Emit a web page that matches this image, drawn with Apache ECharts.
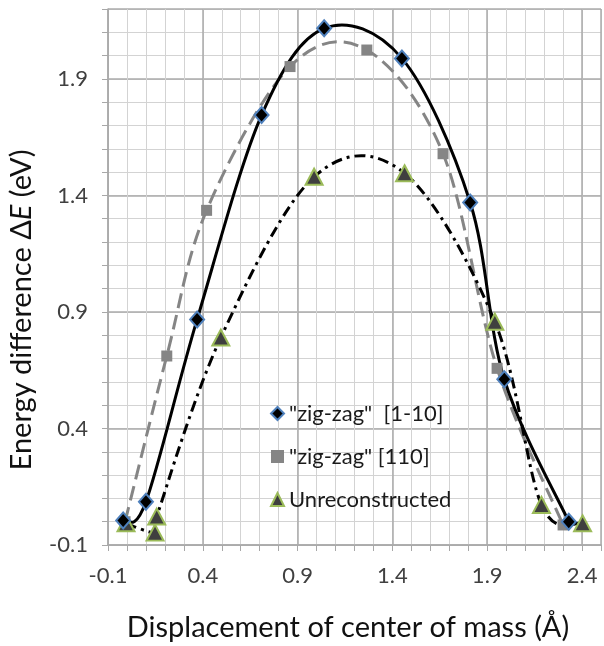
<!DOCTYPE html>
<html><head><meta charset="utf-8">
<script src="https://cdn.jsdelivr.net/npm/echarts@6/dist/echarts.min.js"></script>
<style>html,body{margin:0;padding:0;background:#fff}#c{width:604px;height:646px}</style>
</head><body><div id="c"></div>
<script>
// ---- data ----
const seriesNames = ['"zig-zag"  [1-10]', '"zig-zag" [110]', 'Unreconstructed'];
const zig1X = [-0.02, 0.10, 0.37, 0.71, 1.04, 1.45, 1.81, 1.99, 2.33];
const zig1Y = [0.005, 0.086, 0.868, 1.745, 2.117, 1.988, 1.37, 0.611, 0.0];
const zig2X = [-0.01, 0.21, 0.42, 0.86, 1.265, 1.667, 1.952, 2.30];
const zig2Y = [0.0, 0.711, 1.336, 1.953, 2.024, 1.579, 0.658, -0.014];
const unrecX = [-0.005, 0.148, 0.157, 0.495, 0.987, 1.464, 1.94, 2.186, 2.403];
const unrecY = [-0.007, -0.047, 0.022, 0.79, 1.48, 1.495, 0.858, 0.072, -0.007];
const xTickLabels = ['-0.1', '0.4', '0.9', '1.4', '1.9', '2.4'];
const yTickLabels = ['-0.1', '0.4', '0.9', '1.4', '1.9'];
const xTitle = 'Displacement of center of mass (Å)';
const yTitleParts = ['Energy difference Δ', 'E', ' (eV)'];

const zip = (xs, ys) => xs.map((x, i) => [x, ys[i]]);
const FONT = 'Lato';
const chart = echarts.init(document.getElementById('c'), null, {renderer: 'canvas'});

const minorGrid = {show: true, lineStyle: {color: '#d3d3d3', width: 1}};
const majorGrid = {show: true, lineStyle: {color: '#ababab', width: 1.5}};

// smooth curve (spreadsheet-style cardinal spline) through the data points,
// positioned through the chart's own coordinate system (api.coord)
function curveSeries(name, xs, ys, style, z) {
  return {
    type: 'custom', name: name, coordinateSystem: 'cartesian2d', z: z, silent: true,
    data: zip(xs, ys),
    renderItem: function (params, api) {
      if (params.dataIndex !== 0) return null;
      const p = xs.map((x, i) => api.coord([x, ys[i]]));
      const n = p.length, t = 1 / 6;
      let d = 'M' + p[0][0] + ',' + p[0][1];
      for (let i = 0; i < n - 1; i++) {
        const p0 = p[Math.max(i - 1, 0)], p1 = p[i], p2 = p[i + 1], p3 = p[Math.min(i + 2, n - 1)];
        const c1 = [p1[0] + (p2[0] - p0[0]) * t, p1[1] + (p2[1] - p0[1]) * t];
        const c2 = [p2[0] - (p3[0] - p1[0]) * t, p2[1] - (p3[1] - p1[1]) * t];
        d += ' C' + c1[0] + ',' + c1[1] + ' ' + c2[0] + ',' + c2[1] + ' ' + p2[0] + ',' + p2[1];
      }
      return {type: 'path', shape: {pathData: d}, style: Object.assign({fill: 'none'}, style)};
    }
  };
}

chart.setOption({
  animation: false,
  backgroundColor: '#ffffff',
  grid: {left: 108, right: -3, top: 9, bottom: 101, containLabel: false},
  xAxis: [
    {
      type: 'value', min: -0.1, max: 2.5, interval: 0.1,
      axisLine: {show: true, onZero: false, lineStyle: {color: '#a8a8a8', width: 1.5}},
      axisTick: {show: true, length: 6, lineStyle: {color: '#a8a8a8'}},
      axisLabel: {
        margin: 20, fontSize: 22, fontFamily: FONT, color: '#404040',
        formatter: v => xTickLabels.includes(v.toFixed(1)) ? v.toFixed(1) : ''
      },
      splitLine: minorGrid
    },
    {
      type: 'value', position: 'top', min: 0, max: 2.6, interval: 0.5,
      axisLine: {show: false}, axisTick: {show: false}, axisLabel: {show: false},
      splitLine: majorGrid
    }
  ],
  yAxis: [
    {
      type: 'value', min: -0.1, max: 2.2, interval: 0.1,
      axisLine: {show: true, onZero: false, lineStyle: {color: '#a8a8a8', width: 1.5}},
      axisTick: {show: true, length: 6, lineStyle: {color: '#a8a8a8'}},
      axisLabel: {
        margin: 20, fontSize: 22, fontFamily: FONT, color: '#404040',
        formatter: v => yTickLabels.includes(v.toFixed(1)) ? v.toFixed(1) : ''
      },
      splitLine: minorGrid
    },
    {
      type: 'value', position: 'right', min: 0, max: 2.3, interval: 0.5,
      axisLine: {show: false}, axisTick: {show: false}, axisLabel: {show: false},
      splitLine: majorGrid
    }
  ],
  legend: {
    orient: 'vertical', left: 265, top: 397,
    itemWidth: 13, itemHeight: 13, itemGap: 20,
    textStyle: {fontSize: 22, fontFamily: FONT, color: '#1a1a1a', lineHeight: 23},
    data: [
      {name: seriesNames[0], icon: 'diamond'},
      {name: seriesNames[1], icon: 'rect'},
      {name: seriesNames[2], icon: 'triangle'}
    ]
  },
  series: [
    curveSeries('curve110', zig2X, zig2Y, {stroke: '#858585', lineWidth: 3, lineDash: [15, 7]}, 2),
    curveSeries('curveUnrec', unrecX, unrecY, {stroke: '#000', lineWidth: 3, lineDash: [11, 5, 3, 5]}, 2),
    curveSeries('curve1-10', zig1X, zig1Y, {stroke: '#000', lineWidth: 3}, 2),
    {
      name: seriesNames[1], type: 'scatter', data: zip(zig2X, zig2Y),
      symbol: 'rect', symbolSize: 11, z: 3,
      itemStyle: {color: '#858585', opacity: 1}
    },
    {
      name: seriesNames[2], type: 'scatter', data: zip(unrecX, unrecY),
      symbol: 'triangle', symbolSize: [17, 16], z: 4,
      itemStyle: {color: '#3f3f3f', borderColor: '#9bbb59', borderWidth: 2, opacity: 1}
    },
    {
      name: seriesNames[0], type: 'scatter', data: zip(zig1X, zig1Y),
      symbol: 'diamond', symbolSize: [14, 16], z: 5,
      itemStyle: {color: '#000000', borderColor: '#4f81bd', borderWidth: 2, opacity: 1}
    }
  ],
  graphic: [
    {
      type: 'text', x: 348, y: 628, z: 10,
      style: {text: xTitle, fontSize: 29, fontFamily: FONT, fill: '#111', align: 'center', verticalAlign: 'middle'}
    },
    {
      type: 'text', x: 22, y: 310, rotation: Math.PI / 2, z: 10,
      style: {
        text: '{a|' + yTitleParts[0] + '}{i|' + yTitleParts[1] + '}{a|' + yTitleParts[2] + '}',
        align: 'center', verticalAlign: 'middle',
        rich: {
          a: {fontSize: 29, fontFamily: FONT, fill: '#111'},
          i: {fontSize: 29, fontFamily: FONT, fontStyle: 'italic', fill: '#111'}
        }
      }
    }
  ]
});
</script>
</body></html>
